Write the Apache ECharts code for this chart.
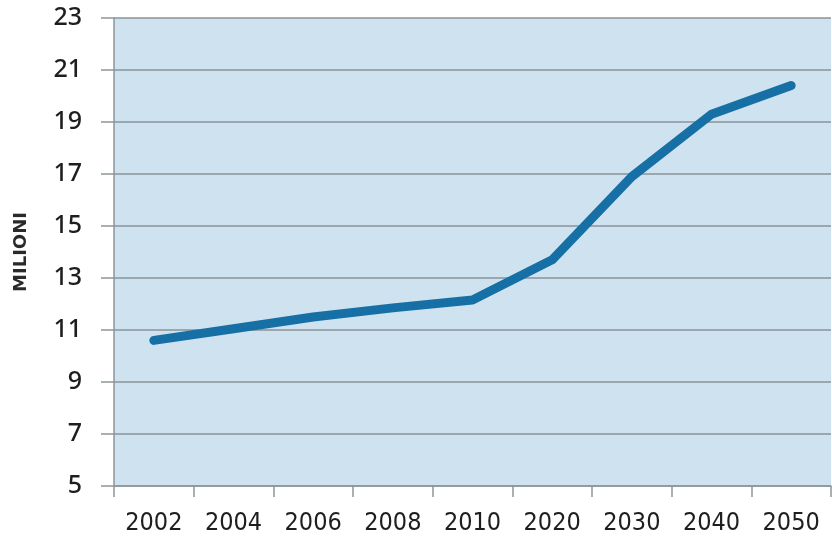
<!DOCTYPE html>
<html>
<head>
<meta charset="utf-8">
<script src="https://cdn.jsdelivr.net/npm/echarts@6/dist/echarts.min.js"></script>
<style>
html,body{margin:0;padding:0;background:#fff;}
#chart{width:832px;height:538px;}
</style>
</head>
<body>
<div id="chart"></div>
<script>
var categories = ['2002','2004','2006','2008','2010','2020','2030','2040','2050'];
var values = [10.6, 11.05, 11.5, 11.85, 12.15, 13.7, 16.9, 19.3, 20.4];
var yMin = 5, yMax = 23, yStep = 2;
var yName = 'MILIONI';

var chart = echarts.init(document.getElementById('chart'), null, {renderer:'canvas'});
chart.setOption({
  animation: false,
  backgroundColor: '#ffffff',
  grid: {left: 114, right: 1, top: 18, bottom: 52, show: true, backgroundColor: '#cfe2ef', borderWidth: 0, containLabel: false, outerBoundsMode: 'none'},
  xAxis: {
    type: 'category',
    data: categories,
    boundaryGap: true,
    axisLine: {show: true, lineStyle: {color: '#8d969c', width: 1.5}},
    axisTick: {show: true, length: 11, alignWithLabel: false, lineStyle: {color: '#8d969c', width: 1.5}},
    axisLabel: {color: '#1e1e1e', fontFamily: '"DejaVu Sans Condensed", "Liberation Sans", sans-serif', fontSize: 25, margin: 25},
    splitLine: {show: false}
  },
  yAxis: {
    type: 'value',
    min: yMin, max: yMax, interval: yStep,
    name: yName,
    nameLocation: 'middle',
    nameRotate: 90,
    nameGap: 84,
    nameTextStyle: {color: '#2a2a2a', fontFamily: '"DejaVu Sans", sans-serif', fontSize: 18, fontWeight: 'bold'},
    axisLine: {show: true, lineStyle: {color: '#8d969c', width: 1.5}},
    axisTick: {show: true, length: 13, lineStyle: {color: '#8d969c', width: 1.5}},
    axisLabel: {color: '#1e1e1e', fontFamily: 'Noto Sans', fontSize: 25, fontWeight: 500, margin: 32},
    splitLine: {show: true, lineStyle: {color: '#8a9298', width: 1.5}}
  },
  series: [{
    type: 'line',
    data: values,
    symbol: 'none',
    smooth: false,
    lineStyle: {color: '#1670a6', width: 9, cap: 'round', join: 'round'}
  }]
});
</script>
</body>
</html>
